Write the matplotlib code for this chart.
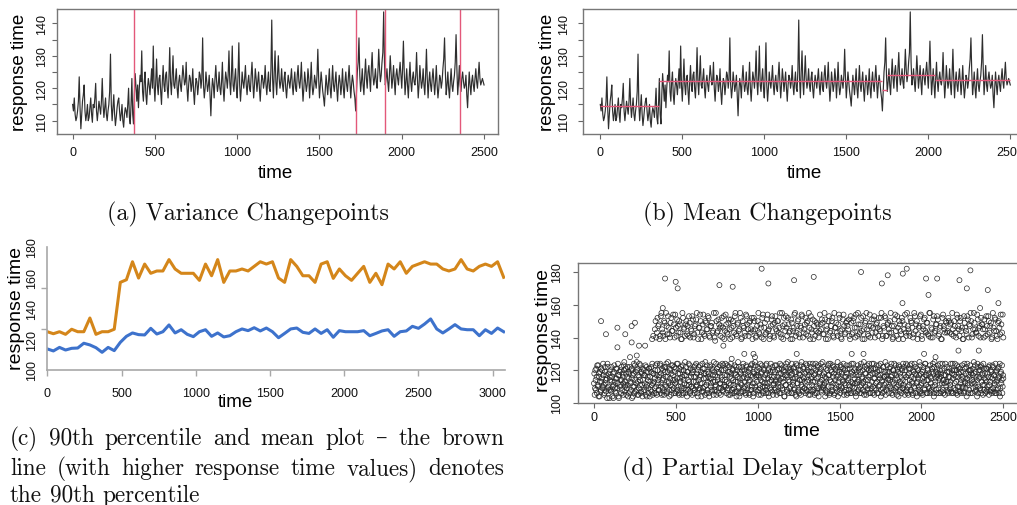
import matplotlib
matplotlib.use("Agg")
import matplotlib.pyplot as plt
import numpy as np

W, H = 1017, 506

# ---------------- data ----------------
# (a)/(b) response time series: readings at t = 0, 10, 20, ... and t = 5, 15, 25, ...
rt_step = 10
rt_values = [115, 117, 110, 113, 123.5, 107.5, 116, 121, 110, 115,
             111, 117, 109.5, 114, 121.5, 110, 116, 112, 123, 111,
             117, 110, 115, 130.5, 110, 118, 108.5, 114, 117, 110,
             115, 108, 114, 111, 120, 109, 123, 109, 124.5, 116,
             114, 124, 131.5, 116, 125, 115, 123, 118, 126, 133,
             116, 129, 118, 124, 115, 127, 119, 125, 117, 132.5,
             118, 130, 120, 126, 117, 124, 119, 127, 121, 128,
             116, 124, 119, 126, 115, 123, 118, 125, 120, 135.5,
             117, 125, 119, 124, 111.5, 123, 117, 127, 119, 125,
             118, 128, 116, 125, 120, 131.5, 118, 133, 119, 126,
             117, 134, 116, 125, 120, 127, 118, 124, 119, 128,
             117, 126, 119, 125, 116, 124, 120, 127, 118, 125,
             119, 141, 117, 131.5, 118, 130, 120, 126, 119, 125,
             117, 124, 120, 126, 118, 125, 119, 127, 120, 128,
             116, 125, 119, 126, 117, 128, 118, 124, 120, 132,
             117, 125, 119, 114.5, 124, 118, 126, 117, 127, 119,
             125, 116, 124, 118, 126, 117, 125, 119, 127, 117,
             124, 119, 113, 125, 135.5, 119, 126, 118, 129, 120,
             127, 119, 131, 121, 126, 120, 132, 122, 128, 143.5,
             121, 126, 119, 130, 120, 127, 118, 126, 121, 128,
             120, 134.5, 118, 126, 117, 128, 119, 125, 121, 131,
             117, 127, 120, 126, 118, 132, 117, 125, 119, 126,
             118, 127, 117, 124, 120, 126, 135.5, 118, 125, 117,
             126, 119, 124, 136.5, 118, 127, 119, 125, 120, 124,
             114, 125, 118, 124, 119, 126, 120, 128, 121, 123,
             121]
rt_mid_values = [113, 112, 111, 116, 114, 112, 118, 113, 112, 110,
                 114, 112, 115, 117, 113, 113, 114, 116, 115, 114,
                 112, 113, 119, 115, 114, 112, 111, 116, 113, 112,
                 110, 112, 113, 115, 111, 115, 112, 118, 120, 121,
                 120, 122, 119, 122, 118, 120, 121, 122, 120, 121,
                 122, 121, 123, 119, 122, 121, 124, 120, 123, 122,
                 124, 121, 123, 120, 122, 121, 123, 124, 122, 120,
                 121, 123, 121, 119, 120, 122, 121, 124, 123, 121,
                 120, 122, 121, 118, 119, 121, 123, 122, 121, 120,
                 122, 120, 121, 123, 124, 122, 124, 121, 123, 120,
                 124, 121, 120, 122, 123, 121, 122, 120, 124, 122,
                 121, 123, 122, 120, 121, 123, 122, 121, 122, 120,
                 126, 123, 125, 122, 124, 123, 122, 121, 123, 120,
                 121, 122, 123, 121, 122, 120, 124, 122, 123, 121,
                 120, 122, 121, 123, 122, 121, 120, 122, 124, 123,
                 121, 122, 117, 119, 121, 122, 120, 122, 121, 122,
                 120, 121, 122, 121, 120, 122, 121, 123, 122, 121,
                 122, 117, 119, 128, 124, 122, 121, 124, 123, 125,
                 123, 126, 124, 123, 122, 125, 126, 124, 131, 128,
                 123, 122, 124, 125, 123, 122, 124, 123, 125, 124,
                 126, 125, 122, 121, 123, 122, 123, 122, 124, 123,
                 121, 123, 122, 121, 124, 123, 122, 121, 123, 122,
                 122, 121, 120, 123, 122, 129, 125, 121, 120, 122,
                 121, 122, 128, 126, 122, 121, 123, 122, 121, 118,
                 120, 121, 122, 121, 123, 122, 124, 123, 122, 122]

variance_cpts = [372, 1721, 1901, 2355]
mean_seg_start = [0, 360, 1716, 1750, 2041]
mean_seg_end = [360, 1716, 1750, 2041, 2500]
mean_seg_value = [114.6, 122.1, 119.4, 124.2, 122.5]

ab_xticks = [0, 500, 1000, 1500, 2000, 2500]
ab_yticks = [110, 115, 120, 125, 130, 135, 140]
ab_ylabels = ["110", "", "120", "", "130", "", "140"]

# (c) 90th percentile and mean, one point every 41 time units
c_step = 41
p90_values = [124.9, 123.6, 124.9, 123.2, 126.5, 124.9, 124.9, 133.8, 123.2, 124.9,
              124.9, 126.5, 157.0, 158.7, 170.4, 159.8, 168.9, 162.9, 164.4, 164.4,
              171.8, 165.7, 162.9, 162.9, 162.9, 158.3, 168.9, 161.3, 171.8, 157.0,
              164.4, 164.4, 165.7, 164.4, 167.4, 170.4, 168.9, 170.4, 159.8, 157.0,
              171.8, 167.4, 161.3, 161.3, 157.0, 168.9, 170.4, 159.6, 165.7, 161.3,
              158.3, 162.9, 167.4, 157.0, 162.9, 155.5, 168.9, 165.7, 170.4, 162.9,
              167.4, 168.9, 170.4, 168.9, 168.9, 165.7, 164.4, 165.7, 171.8, 165.7,
              164.4, 167.4, 168.9, 167.4, 170.4, 160.3]
mean_values = [113.7, 112.4, 114.7, 113.0, 114.1, 114.3, 117.4, 116.3, 114.5, 111.5,
               114.7, 112.6, 118.0, 121.9, 124.1, 123.0, 122.8, 127.1, 123.4, 124.9,
               129.3, 124.1, 126.2, 123.2, 121.7, 124.9, 126.2, 121.9, 124.1, 121.5,
               122.3, 124.9, 126.7, 125.6, 127.5, 125.4, 127.3, 124.9, 121.0, 123.8,
               126.7, 127.3, 124.5, 123.8, 126.7, 123.8, 126.2, 121.3, 125.6, 124.9,
               124.9, 124.9, 125.6, 122.3, 123.8, 125.4, 126.2, 121.9, 124.9, 125.4,
               128.4, 127.1, 129.9, 133.2, 126.7, 124.1, 126.7, 129.5, 126.7, 126.2,
               126.2, 122.3, 126.2, 123.8, 127.3, 124.9]
c_xticks = [0, 500, 1000, 1500, 2000, 2500, 3000]
c_ylabel_ticks = [100, 120, 140, 160, 180]
c_mark_ticks = [100, 126.67, 153.33, 180]

# (d) partial delay scatter: fast band, every 4 time units from t=0 and from t=2
fast_step = 4
fast_values = [
    112, 105, 120, 108, 116, 123, 110, 104, 118, 113, 107, 121, 115, 109, 124, 111, 106, 119, 114, 117, 103, 122, 110, 108, 116,
    120, 107, 113, 104, 118, 111, 123, 109, 115, 106, 121, 112, 117, 103, 119, 110, 114, 122, 108, 116, 105, 120, 113, 111, 118,
    109, 122, 104, 115, 118, 107, 112, 120, 103, 117, 110, 124, 106, 114, 119, 108, 121, 113, 105, 116, 111, 123, 107, 118, 104,
    114, 120, 108, 117, 105, 122, 111, 116, 109, 121, 104, 113, 119, 107, 124, 112, 118, 106, 115, 123, 110, 105, 120, 114, 108,
    117, 124, 106, 112, 121, 109, 115, 105, 119, 122, 110, 107, 116, 125, 113, 104, 120, 111, 118, 108, 123, 114, 106, 119, 112,
    121, 107, 115, 124, 110, 105, 118, 113, 122, 109, 116, 106, 120, 112, 125, 108, 117, 104, 119, 114, 111, 123, 107, 116, 110,
    105, 119, 113, 122, 108, 116, 124, 111, 106, 120, 114, 109, 123, 117, 104, 112, 121, 107, 118, 110, 125, 115, 106, 119, 113,
    118, 104, 122, 110, 115, 107, 120, 113, 125, 108, 117, 111, 105, 121, 114, 119, 106, 123, 112, 109, 116, 124, 107, 120, 111,
    114, 121, 106, 117, 123, 109, 112, 119, 105, 124, 115, 108, 120, 111, 106, 118, 113, 122, 107, 116, 125, 110, 104, 119, 112,
    107, 120, 115, 124, 109, 113, 118, 105, 122, 111, 117, 106, 121, 114, 108, 123, 110, 116, 104, 119, 112, 125, 108, 117, 113,
    122, 108, 116, 111, 124, 105, 119, 113, 107, 121, 115, 110, 123, 106, 118, 112, 120, 104, 117, 109, 124, 114, 107, 120, 111,
    116, 123, 109, 114, 105, 120, 112, 118, 106, 124, 110, 115, 121, 108, 113, 119, 104, 122, 111, 117, 107, 125, 114, 109, 120,
    110, 117, 124, 106, 113, 121, 108, 115, 119, 104, 123, 112, 107, 118, 114, 120, 105, 125, 110, 116, 122, 109, 113, 106, 119,
    123, 107, 114, 119, 110, 105, 122, 116, 111, 124, 108, 117, 113, 106, 120, 115, 109, 123, 104, 118, 112, 121, 107, 114, 125,
    109, 118, 112, 104, 121, 115, 107, 123, 110, 117, 106, 124, 113, 119, 108, 116, 122, 105, 114, 120, 111, 107, 125, 117, 110,
    115, 106, 122, 118, 109, 113, 124, 107, 120, 111, 116, 105, 121, 114, 108, 123, 110, 118, 106, 119, 112, 124, 109, 115, 121,
    104, 119, 113, 123, 108, 117, 110, 122, 106, 115, 120, 112, 125, 107, 118, 114, 105, 121, 109, 116, 124, 111, 106, 120, 113,
    118, 110, 124, 105, 115, 121, 108, 113, 119, 106, 123, 111, 117, 104, 120, 114, 109, 122, 107, 116, 125, 112, 108, 119, 115,
    106, 121, 114, 109, 124, 117, 105, 120, 112, 118, 107, 123, 110, 115, 119, 104, 122, 113, 108, 116, 121, 109, 124, 111, 117,
    120, 107, 116, 123, 110, 105, 118, 114, 121, 108, 124, 112, 106, 119, 115, 109, 122, 117, 104, 113, 120, 110, 125, 107, 118,
    112, 119, 105, 122, 116, 108, 124, 111, 117, 106, 120, 114, 109, 123, 107, 115, 121, 110, 118, 104, 125, 113, 119, 106, 116,
    123, 109, 115, 120, 106, 118, 112, 124, 108, 114, 121, 105, 117, 110, 122, 113, 107, 119, 116, 111, 124, 106, 120, 115, 109,
    117, 124, 108, 113, 120, 105, 116, 122, 110, 107, 119, 114, 123, 109, 115, 106, 121, 112, 118, 104, 124, 111, 117, 108, 120,
    106, 118, 114, 121, 109, 125, 112, 107, 119, 116, 104, 122, 110, 115, 120, 108, 123, 113, 117, 105, 121, 111, 118, 114, 107,
    121, 110, 116, 105, 123, 113, 108, 119, 115, 122, 107, 117, 111, 124, 106, 120, 114, 109, 122, 116, 104, 118, 112, 123, 110,
    115]
fast_values_b = [
    118, 109, 114, 121, 106, 111, 123, 116, 104, 119, 108, 113, 120, 110, 117, 105, 122, 112, 107, 115, 124, 109, 118, 103, 114,
    108, 122, 116, 110, 103, 119, 113, 107, 121, 115, 109, 124, 104, 117, 111, 120, 106, 114, 118, 112, 123, 107, 110, 121, 105,
    116, 111, 119, 106, 122, 113, 108, 121, 115, 104, 118, 110, 123, 107, 112, 120, 105, 117, 109, 124, 114, 106, 119, 111, 121,
    107, 117, 112, 123, 110, 104, 119, 114, 106, 121, 116, 108, 122, 111, 105, 118, 113, 109, 120, 106, 117, 124, 112, 108, 116,
    123, 110, 118, 105, 114, 120, 107, 122, 111, 116, 124, 106, 119, 112, 108, 121, 115, 105, 123, 110, 117, 109, 122, 114, 106,
    113, 124, 108, 118, 106, 121, 115, 110, 120, 105, 123, 114, 109, 117, 106, 122, 111, 119, 108, 124, 113, 106, 121, 110, 118,
    120, 109, 116, 106, 123, 113, 110, 118, 104, 122, 108, 116, 112, 119, 107, 124, 109, 115, 121, 105, 118, 111, 123, 108, 116,
    106, 115, 123, 112, 108, 121, 117, 105, 119, 113, 110, 124, 107, 116, 122, 109, 118, 112, 105, 120, 114, 108, 123, 110, 117,
    124, 110, 113, 108, 119, 105, 122, 116, 111, 118, 106, 121, 114, 109, 123, 107, 117, 104, 120, 113, 109, 122, 115, 106, 118,
    111, 122, 107, 116, 120, 110, 106, 123, 115, 109, 119, 113, 105, 121, 117, 108, 124, 112, 106, 118, 123, 110, 116, 120, 107,
    117, 105, 121, 109, 114, 118, 123, 110, 106, 120, 112, 117, 108, 124, 110, 115, 106, 121, 113, 119, 108, 116, 122, 105, 112,
    108, 119, 113, 123, 107, 116, 110, 121, 114, 106, 118, 123, 109, 115, 120, 104, 117, 111, 124, 108, 116, 121, 106, 113, 119,
    121, 106, 118, 111, 115, 122, 109, 105, 124, 116, 112, 108, 120, 106, 117, 123, 111, 114, 107, 121, 115, 109, 118, 124, 108,
    113, 120, 105, 117, 124, 108, 115, 119, 107, 113, 121, 105, 118, 124, 110, 106, 122, 116, 109, 119, 113, 124, 108, 117, 110,
    122, 111, 116, 108, 113, 106, 120, 117, 124, 105, 114, 120, 110, 107, 123, 112, 118, 106, 121, 109, 116, 122, 104, 113, 119,
    108, 123, 110, 119, 114, 121, 105, 112, 116, 108, 123, 118, 106, 115, 111, 121, 106, 113, 124, 110, 117, 107, 120, 112, 106,
    117, 112, 107, 114, 121, 106, 119, 124, 111, 116, 108, 113, 105, 122, 110, 118, 123, 108, 114, 120, 106, 117, 121, 109, 124,
    106, 121, 115, 109, 118, 112, 123, 106, 117, 110, 120, 115, 124, 108, 113, 106, 122, 116, 111, 119, 105, 117, 123, 110, 114,
    119, 110, 122, 116, 106, 113, 120, 108, 124, 114, 109, 117, 105, 121, 111, 123, 107, 118, 112, 106, 120, 114, 109, 122, 105,
    113, 124, 108, 106, 117, 121, 111, 123, 107, 116, 113, 105, 120, 110, 124, 118, 106, 112, 121, 115, 108, 117, 106, 123, 111,
    106, 115, 120, 113, 109, 124, 117, 106, 114, 121, 110, 118, 106, 116, 112, 108, 119, 124, 106, 122, 111, 115, 108, 121, 117,
    118, 106, 111, 124, 116, 107, 120, 114, 106, 117, 112, 124, 113, 108, 119, 106, 116, 121, 109, 113, 107, 118, 124, 106, 120,
    112, 120, 116, 106, 123, 110, 107, 118, 121, 112, 106, 116, 110, 119, 107, 124, 113, 109, 122, 115, 112, 106, 120, 116, 123,
    120, 112, 106, 117, 113, 118, 123, 110, 108, 114, 124, 106, 120, 116, 109, 122, 106, 118, 111, 124, 108, 115, 106, 121, 113,
    108, 118, 122, 111, 107, 120, 116, 106, 123, 109, 117, 112, 106, 119, 113, 108, 121, 115, 106, 124, 109, 119, 114, 106, 117]
# (d) delayed band, every 8 time units from t=372 and from t=376
slow_step = 8
slow_start = 372
slow_values = [
    145, 140, 152, 148, 141, 155, 143, 150, 139, 147, 153, 142, 149, 144, 154, 140, 146, 151, 143, 148, 139, 155, 145, 141, 150,
    147, 153, 140, 144, 151, 142, 148, 155, 139, 146, 150, 143, 154, 141, 149, 145, 152, 140, 147, 143, 155, 138, 150, 144, 148,
    141, 152, 146, 139, 154, 143, 149, 145, 151, 140, 147, 153, 142, 148, 144, 155, 139, 150, 146, 141, 153, 145, 149, 143, 152,
    144, 150, 140, 147, 155, 142, 146, 152, 139, 149, 143, 154, 145, 141, 151, 148, 140, 153, 144, 150, 146, 142, 155, 139, 148,
    153, 141, 148, 144, 151, 139, 146, 155, 143, 150, 142, 147, 154, 140, 145, 152, 149, 141, 146, 153, 143, 139, 150, 144, 148,
    140, 154, 145, 149, 142, 151, 147, 139, 153, 144, 150, 141, 155, 146, 143, 148, 152, 140, 145, 154, 142, 149, 147, 151, 139,
    149, 143, 152, 140, 146, 155, 142, 148, 144, 153, 139, 150, 145, 141, 154, 147, 143, 151, 140, 148, 146, 152, 144, 155, 141,
    146, 152, 141, 149, 143, 155, 147, 140, 151, 144, 153, 139, 148, 142, 150, 145, 154, 141, 147, 143, 152, 149, 140, 155, 144,
    150, 142, 147, 154, 139, 145, 152, 143, 149, 141, 155, 146, 140, 153, 144, 148, 151, 142, 147, 139, 154, 145, 150, 143, 152,
    143, 149, 155, 141, 147, 140, 152, 145, 150, 144, 139, 153, 146, 142, 151, 148, 155, 140, 145, 149, 143, 154, 141, 147, 152,
    148, 140, 145, 153, 142, 150, 147, 139, 155, 144, 151, 141, 149, 146, 154, 143, 140]
slow_start_b = 376
slow_values_b = [
    150, 143, 147, 139, 153, 145, 141, 149, 155, 142, 146, 140, 152, 144, 148, 154, 141, 147, 150, 143, 139, 152, 146, 148, 142,
    141, 149, 145, 153, 140, 147, 151, 143, 146, 154, 139, 148, 142, 150, 145, 153, 141, 147, 149, 144, 140, 155, 143, 151, 146,
    147, 140, 153, 144, 148, 142, 151, 139, 146, 150, 143, 155, 141, 149, 145, 152, 140, 147, 143, 154, 148, 141, 150, 145, 139,
    152, 145, 141, 150, 143, 148, 140, 154, 146, 142, 151, 144, 139, 147, 153, 141, 149, 145, 150, 143, 155, 140, 147, 152, 144,
    146, 152, 143, 139, 149, 144, 154, 141, 147, 151, 140, 146, 153, 143, 148, 142, 150, 155, 139, 145, 151, 147, 141, 149, 143,
    144, 148, 151, 142, 155, 139, 145, 150, 143, 147, 152, 140, 146, 149, 141, 154, 144, 139, 151, 147, 143, 150, 145, 141, 153,
    142, 150, 146, 154, 141, 148, 143, 152, 139, 145, 149, 155, 142, 147, 140, 151, 146, 153, 143, 149, 141, 145, 152, 139, 147,
    153, 141, 148, 145, 150, 143, 139, 147, 154, 141, 146, 150, 144, 152, 139, 148, 143, 155, 145, 141, 150, 146, 142, 153, 148,
    139, 146, 153, 141, 147, 151, 144, 149, 142, 155, 140, 145, 151, 143, 148, 153, 141, 146, 139, 152, 147, 143, 149, 144, 150,
    148, 142, 145, 150, 143, 154, 147, 141, 152, 146, 139, 149, 144, 153, 140, 147, 150, 142, 155, 145, 143, 151, 146, 140, 148,
    145, 151, 141, 147, 153, 143, 149, 140, 146, 152, 144, 139, 150, 142, 148, 154]
# (d) scattered individual points (time, response time)
other_t = [43, 73, 143, 143, 191, 230, 230, 250, 275, 312, 261, 220, 185, 261, 355, 362,
           420, 434, 499, 511, 766, 790, 847, 918, 974, 983, 841, 1024, 1065, 1222, 1238,
           1342, 1574, 1631, 1646, 1758, 1794, 1884, 1886, 1910, 2016, 2028, 2043, 2086,
           2096, 2226, 2232, 2277, 2299, 2350, 2358, 2405, 2470]
other_v = [150, 142, 134, 146, 142, 137, 147, 149, 135, 135, 129, 128, 125, 125, 139, 141,
           158, 176, 174, 170, 172, 135, 171, 130, 130, 128, 127, 182, 173, 175, 130,
           177, 130, 180, 130, 173, 178, 161, 179, 182, 130, 176, 166, 128,
           176, 132, 175, 170, 181, 132, 158, 169, 161]
d_xticks = [0, 500, 1000, 1500, 2000, 2500]
d_yticks = [100, 120, 140, 160, 180]

# ---------------- figure ----------------
fig = plt.figure(figsize=(W / 100, H / 100), dpi=100)
sans = "Liberation Sans"
serif = ["cmr10", "DejaVu Serif"]


def add_ax(x0, y0, x1, y1):
    return fig.add_axes([x0 / W, 1 - y1 / H, (x1 - x0) / W, (y1 - y0) / H])


def fx(px):
    return px / W


def fy(py):
    return 1 - py / H


def r_style(ax, xpad, ypad):
    for s in ax.spines.values():
        s.set_color("#777777")
        s.set_linewidth(1.0)
    ax.tick_params(direction="out", length=3.6, width=0.8, color="#666666",
                   labelsize=9, labelcolor="#111111")
    ax.tick_params(axis="x", pad=xpad)
    ax.tick_params(axis="y", pad=ypad, labelrotation=90)
    for lab in ax.get_xticklabels() + ax.get_yticklabels():
        lab.set_fontfamily(sans)
    for lab in ax.get_yticklabels():
        lab.set_verticalalignment("center")


t_all = np.concatenate([np.arange(len(rt_values)) * rt_step,
                        np.arange(len(rt_mid_values)) * rt_step + rt_step / 2])
v_all = np.concatenate([rt_values, rt_mid_values])
order = np.argsort(t_all)
rt_t, rt_v = t_all[order], v_all[order]

# (a) Variance changepoints
axa = add_ax(57, 10, 497.7, 135)
axa.plot(rt_t, rt_v, color="#2e2e2e", lw=0.85)
for cp in variance_cpts:
    axa.axvline(cp, color="#e3587a", lw=1.0)
axa.set_xlim(-95, 2583)
axa.set_ylim(105.9, 144.4)
axa.set_xticks(ab_xticks)
axa.set_yticks(ab_yticks)
axa.set_yticklabels(ab_ylabels)
r_style(axa, 4.8, 2.7)

# (b) Mean changepoints
axb = add_ax(583.3, 10, 1026.7, 135)
axb.plot(rt_t, rt_v, color="#2e2e2e", lw=0.85)
axb.hlines(mean_seg_value, mean_seg_start, mean_seg_end, color="#e3587a", lw=1.0)
axb.set_xlim(-103.7, 2600)
axb.set_ylim(105.9, 144.4)
axb.set_xticks(ab_xticks)
axb.set_yticks(ab_yticks)
axb.set_yticklabels(ab_ylabels)
r_style(axb, 4.8, 5.8)

for ax, (xl, yl) in ((axa, ((275, 173), (20, 72))), (axb, ((804, 173), (548, 72)))):
    ax.set_xlabel("time", fontsize=13.5, fontfamily=sans, va="center")
    ax.set_ylabel("response time", fontsize=13.5, fontfamily=sans, va="center")
    ax.xaxis.set_label_coords(fx(xl[0]), fy(xl[1]), transform=fig.transFigure)
    ax.yaxis.set_label_coords(fx(yl[0]), fy(yl[1]), transform=fig.transFigure)

# (c) 90th percentile & mean
axc = add_ax(47.3, 248, 505, 371)
c_t = np.arange(len(p90_values)) * c_step
axc.plot(c_t, p90_values, color="#d4861a", lw=2.2, solid_joinstyle="round")
axc.plot(c_t, mean_values, color="#3d72cc", lw=2.2, solid_joinstyle="round")
axc.set_xlim(0, 3084)
axc.set_ylim(100, 180)
for s in ("top", "right"):
    axc.spines[s].set_visible(False)
for s in ("left", "bottom"):
    axc.spines[s].set_color("#a8a8a8")
    axc.spines[s].set_linewidth(1.2)
axc.set_xticks(c_xticks)
axc.set_yticks(c_ylabel_ticks)
axc.set_yticks(c_mark_ticks, minor=True)
axc.tick_params(axis="x", direction="out", length=4.5, width=1, color="#a8a8a8",
                labelsize=9, pad=7.5, labelcolor="#111111")
axc.tick_params(axis="y", which="major", length=0, labelsize=9, pad=7.0,
                labelrotation=90, labelcolor="#111111")
axc.tick_params(axis="y", which="minor", direction="out", length=4, width=1,
                color="#a8a8a8")
for lab in axc.get_xticklabels() + axc.get_yticklabels():
    lab.set_fontfamily(sans)
for lab in axc.get_yticklabels():
    lab.set_verticalalignment("center")
axc.set_xlabel("time", fontsize=13.5, fontfamily=sans, va="center")
axc.set_ylabel("response time", fontsize=14, fontfamily=sans, va="center")
axc.xaxis.set_label_coords(fx(235), fy(403), transform=fig.transFigure)
axc.yaxis.set_label_coords(fx(16.7), fy(308), transform=fig.transFigure)

# (d) scatterplot
axd = add_ax(578.3, 264, 1019.7, 404)
mk = dict(s=13, facecolors="none", edgecolors="#262626", linewidths=0.5)
axd.scatter(np.arange(len(fast_values)) * fast_step, fast_values, **mk)
axd.scatter(np.arange(len(fast_values_b)) * fast_step + 2, fast_values_b, **mk)
axd.scatter(slow_start + np.arange(len(slow_values)) * slow_step, slow_values, **mk)
axd.scatter(slow_start_b + np.arange(len(slow_values_b)) * slow_step, slow_values_b, **mk)
axd.scatter(other_t, other_v, **mk)
axd.set_xlim(-95.9, 2600)
axd.set_ylim(100, 185.5)
axd.set_xticks(d_xticks)
axd.set_yticks(d_yticks)
r_style(axd, 2.0, 7.2)
axd.set_xlabel("time", fontsize=14, fontfamily=sans, va="center")
axd.set_ylabel("response time", fontsize=14, fontfamily=sans, va="center")
axd.xaxis.set_label_coords(fx(801.7), fy(431.7), transform=fig.transFigure)
axd.yaxis.set_label_coords(fx(543.3), fy(330), transform=fig.transFigure)

# ---------------- captions ----------------
cap = dict(fontsize=17.3, family=serif, color="#111111", va="baseline", ha="center")
fig.text(fx(248.3), fy(220.5), "(a) Variance Changepoints", **cap)
fig.text(fx(767), fy(220.5), "(b) Mean Changepoints", **cap)
fig.text(fx(774.7), fy(475.7), "(d) Partial Delay Scatterplot", **cap)

c_lines = ["(c) 90th percentile and mean plot \u2013 the brown",
           "line (with higher response time values) denotes",
           "the 90th percentile"]
c_base = [445, 475, 502]
c_left, c_right = 10, 504
renderer = fig.canvas.get_renderer()
for i, (line, yb) in enumerate(zip(c_lines, c_base)):
    words = line.split(" ")
    texts = [fig.text(0, fy(yb), w, fontsize=16.7, family=serif, color="#111111",
                      va="baseline", ha="left") for w in words]
    widths = [t.get_window_extent(renderer).width for t in texts]
    if i < 2:
        gap = (c_right - c_left - sum(widths)) / (len(words) - 1)
    else:
        gap = 16.7 * 100 / 72 * 0.333
    x = c_left
    for t, wdt in zip(texts, widths):
        t.set_x(fx(x))
        x += wdt + gap

fig.savefig("out.png", dpi=100)
